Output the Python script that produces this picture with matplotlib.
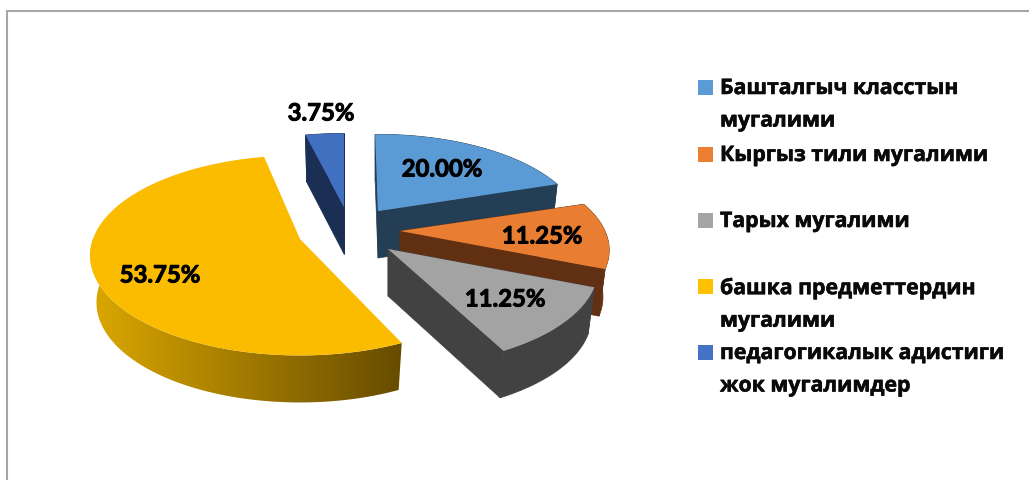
import numpy as np
import matplotlib
matplotlib.use('Agg')
import matplotlib.pyplot as plt
import matplotlib.patheffects as pe
from matplotlib.colors import LinearSegmentedColormap
from matplotlib.patches import Polygon, Rectangle

# Chart data
categories = ["Башталгыч класстын\nмугалими", "Кыргыз тили мугалими", "Тарых мугалими",
              "башка предметтердин\nмугалими", "педагогикалык адистиги\nжок мугалимдер"]
values = [20.00, 11.25, 11.25, 53.75, 3.75]

# Colours for top face and for the side walls
top_colors = ["#5B9BD5", "#ED7D31", "#A5A5A5", "#FFC000", "#4472C4"]
top_faces = ["#5B9BD5", "#E97D31", "#A3A3A3", "#FBBC00", "#4270C0"]
wall_colors = ["#233E55", "#613012", "#424242", "#A67E00", "#1B2F55"]

# Layout in pixels: where each slice's tip ends up after the explosion
tips = [(378, 212), (400, 232), (388, 250), (300, 240), (344, 208)]
label_pos = [(442, 170), (542, 237), (505, 300), (160, 276), (321, 114)]
legend_y = [88, 155, 221, 287, 353]

# Per slice look of the perspective, the original renderer is not a clean projection
rx = [200, 205, 205, 207, 205]
ry = [92, 92, 92, 92, 92]
persp_back = [0.2, 0.2, 0.2, 0.1, 0.25]
persp_front = [0.2, 0.2, 0.22, 0.21, 0.2]
start_nudge = [-1, 0, 0, 3.5, 0]
end_nudge = [0, 0, 0, 2.5, 0]

DEPTH = 47
BOTTOM = 0.97


def project(i, ang, low=False):
    # angle is clockwise from the top of the pie, front of the pie is nearer
    u = np.sin(ang)
    v = np.cos(ang)
    # smooth blend of the back and front perspective, no kink at the sides
    a = (persp_back[i] + persp_front[i]) / 2
    b = (persp_back[i] - persp_front[i]) / 2
    s = 1 / (1 + a * v + b * v * v)
    k = BOTTOM if low else 1.0
    x = tips[i][0] + rx[i] * u * s * k
    y = tips[i][1] - ry[i] * v * s + (DEPTH if low else 0)
    return x, y


fig = plt.figure(figsize=(10.29, 4.81), dpi=100)
ax = fig.add_axes([0, 0, 1, 1])

# Chart frame, only top and left are in the crop
ax.plot([7, 7, 1029], [481, 12, 12], color='#A6A6A6', lw=1.5, solid_joinstyle='miter')

edges = np.concatenate([[0], np.cumsum(values)]) * 3.6
order = [0, 4, 1, 2, 3]
fade = LinearSegmentedColormap.from_list('fade', ["#DDA900", "#674C00"])

for i in order:
    tip = tips[i]
    a0 = np.radians(edges[i] + start_nudge[i])
    a1 = np.radians(edges[i + 1] + end_nudge[i])
    angs = np.linspace(a0, a1, 120)
    x_top, y_top = project(i, angs)
    x_low, y_low = project(i, angs, low=True)

    # outer wall, yellow one fades from left to right
    if i == 3:
        wall = Polygon(np.c_[np.r_[x_top, x_low[::-1]], np.r_[y_top, y_low[::-1]]],
                       closed=True, transform=ax.transData, fc='none', lw=0)
        ax.add_patch(wall)
        img = ax.imshow(np.linspace(0, 1, 256).reshape(1, -1), cmap=fade, aspect='auto',
                        extent=(85, 402, 410, 240), interpolation='bilinear')
        img.set_clip_path(wall)
    else:
        ax.fill(np.r_[x_top, x_low[::-1]], np.r_[y_top, y_low[::-1]],
                color=wall_colors[i], lw=0.5)

        # radial walls, the yellow slice hides its own
        for a in (a0, a1):
            xr, yr = project(i, a)
            xl, yl = project(i, a, low=True)
            ax.fill([tip[0], xr, xl, tip[0]], [tip[1], yr, yl, tip[1] + DEPTH],
                    color=wall_colors[i], lw=0.5)

    # top face
    ax.fill(np.r_[tip[0], x_top], np.r_[tip[1], y_top], color=top_faces[i], lw=0, zorder=3)

# Data labels
for v, p in zip(values, label_pos):
    ax.text(p[0], p[1], f"{v:.2f}%", ha='center', va='center', fontsize=17.2,
            fontweight='bold', family='Lato', color='black', zorder=5,
            path_effects=[pe.withStroke(linewidth=0.7, foreground='black')])

# Legend
for name, col, y in zip(categories, top_colors, legend_y):
    ax.add_patch(Rectangle((698, y - 7), 15, 15, color=col, lw=0))
    ax.text(720, y - 9, name, ha='left', va='top', fontsize=15.3, fontweight='bold',
            family='Open Sans', color='#0A0A0A', linespacing=1.72,
            path_effects=[pe.withStroke(linewidth=0.4, foreground='#0A0A0A')])

ax.set_xlim(0, 1029)
ax.set_ylim(481, 0)
ax.axis('off')

fig.savefig('out.png', dpi=100)
